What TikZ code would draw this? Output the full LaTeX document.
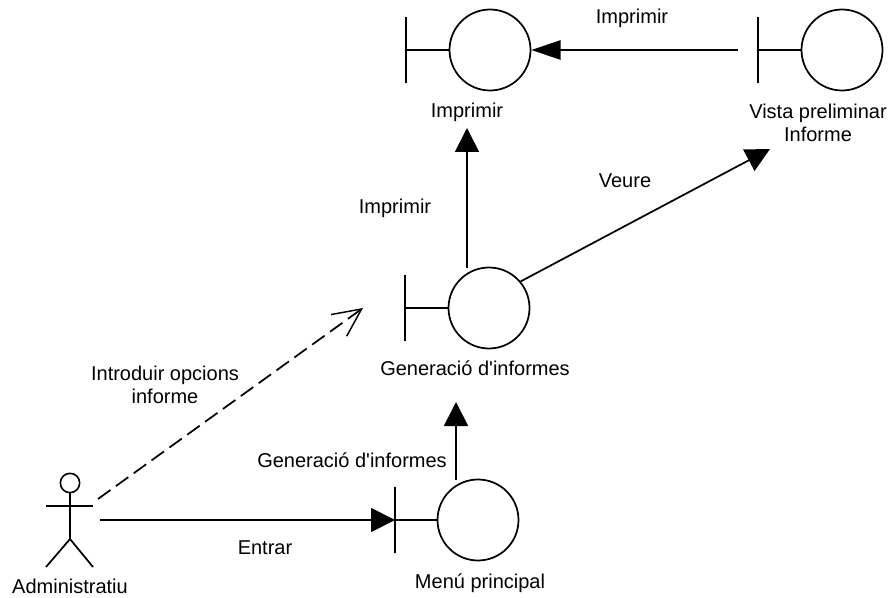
\documentclass[tikz,border=0pt]{standalone}
\usepackage{fontspec}
\setmainfont{Liberation Sans}
\usetikzlibrary{arrows.meta}
\tikzset{
  ctrl/.style={draw,circle,line width=1.3pt,inner sep=0pt,minimum size=60.75pt},
  head/.style={draw,circle,line width=1.2pt,inner sep=0pt,minimum size=14.5pt},
  lbl/.style={align=center,font=\fontsize{15}{17}\selectfont,inner sep=0pt},
  ln/.style={line width=1.3pt},
  conn/.style={line width=1.3pt,-{Triangle[length=18pt,width=18pt]}},
  connlong/.style={line width=1.3pt,-{Triangle[length=22pt,width=14.5pt]}},
  dep/.style={line width=1.3pt,dash pattern=on 11.5pt off 5pt,-{Straight Barb[length=21pt,width=20pt,line width=1.1pt]}}
}
\begin{document}
\begin{tikzpicture}[x=.75pt,y=-.75pt]
\useasboundingbox (0,0) rectangle (892,598);
%\draw[help lines] (0,0) grid (892,598);

% boundaries
\node [ctrl] (imprimir) at (490,50) {};
\draw [ln] (406,17)--(406,83);
\draw [ln] (406,50)--(imprimir.west);

\node [ctrl] (vista) at (842,50) {};
\draw [ln] (758,17)--(758,83);
\draw [ln] (758,50)--(vista.west);

\node [ctrl] (generacio) at (489,308) {};
\draw [ln] (405,275)--(405,341);
\draw [ln] (405,308)--(generacio.west);

\node [ctrl] (menu) at (478,520) {};
\draw [ln] (395,487)--(395,553);
\draw [ln] (395,520)--(menu.west);

% actor
\node [head] (actor) at (70,483) {};
\draw [ln] (actor.south)--(70,539);
\draw [ln] (46,506)--(93,506);
\draw [ln] (46,567)--(70,539)--(93,567);

% free ends
\coordinate (vistaout) at (738,50);
\coordinate (genout) at (467,268);
\coordinate (imprimirin) at (467,128);
\coordinate (veurein) at (770,149);
\coordinate (menuout) at (456,480);
\coordinate (genin) at (456,402);
\coordinate (actorout) at (100,520);
\coordinate (menuin) at (395,520);
\coordinate (actordash) at (98,499);
\coordinate (gendash) at (363,308);

% connectors
\draw [connlong] (vistaout)--(imprimir.east);
\draw [conn] (genout)--(imprimirin);
\draw [conn] (generacio.40)--(veurein);
\draw [conn] (menuout)--(genin);
\draw [conn] (actorout)--(menuin);
\draw [dep] (actordash)--(gendash);

\node at (632,18) [lbl] (limprimirtop) {Imprimir};
\node at (467,112) [lbl] (limprimir) {Imprimir};
\node at (818,123) [lbl] (lvista) {Vista preliminar\\Informe};
\node at (625,181) [lbl] (lveure) {Veure};
\node at (395,208) [lbl] (limprimirleft) {Imprimir};
\node at (475,368) [lbl] (lgeneracio) {Generació d\textquotesingle informes};
\node at (165,385) [lbl] (lintroduir) {Introduir opcions\\informe};
\node at (352,460) [lbl] (lgeneracioarrow) {Generació d\textquotesingle informes};
\node at (265,548) [lbl] (lentrar) {Entrar};
\node at (70,586) [lbl] (ladmin) {Administratiu};
\node at (480,583) [lbl] (lmenu) {Menú principal};
\end{tikzpicture}
\end{document}
